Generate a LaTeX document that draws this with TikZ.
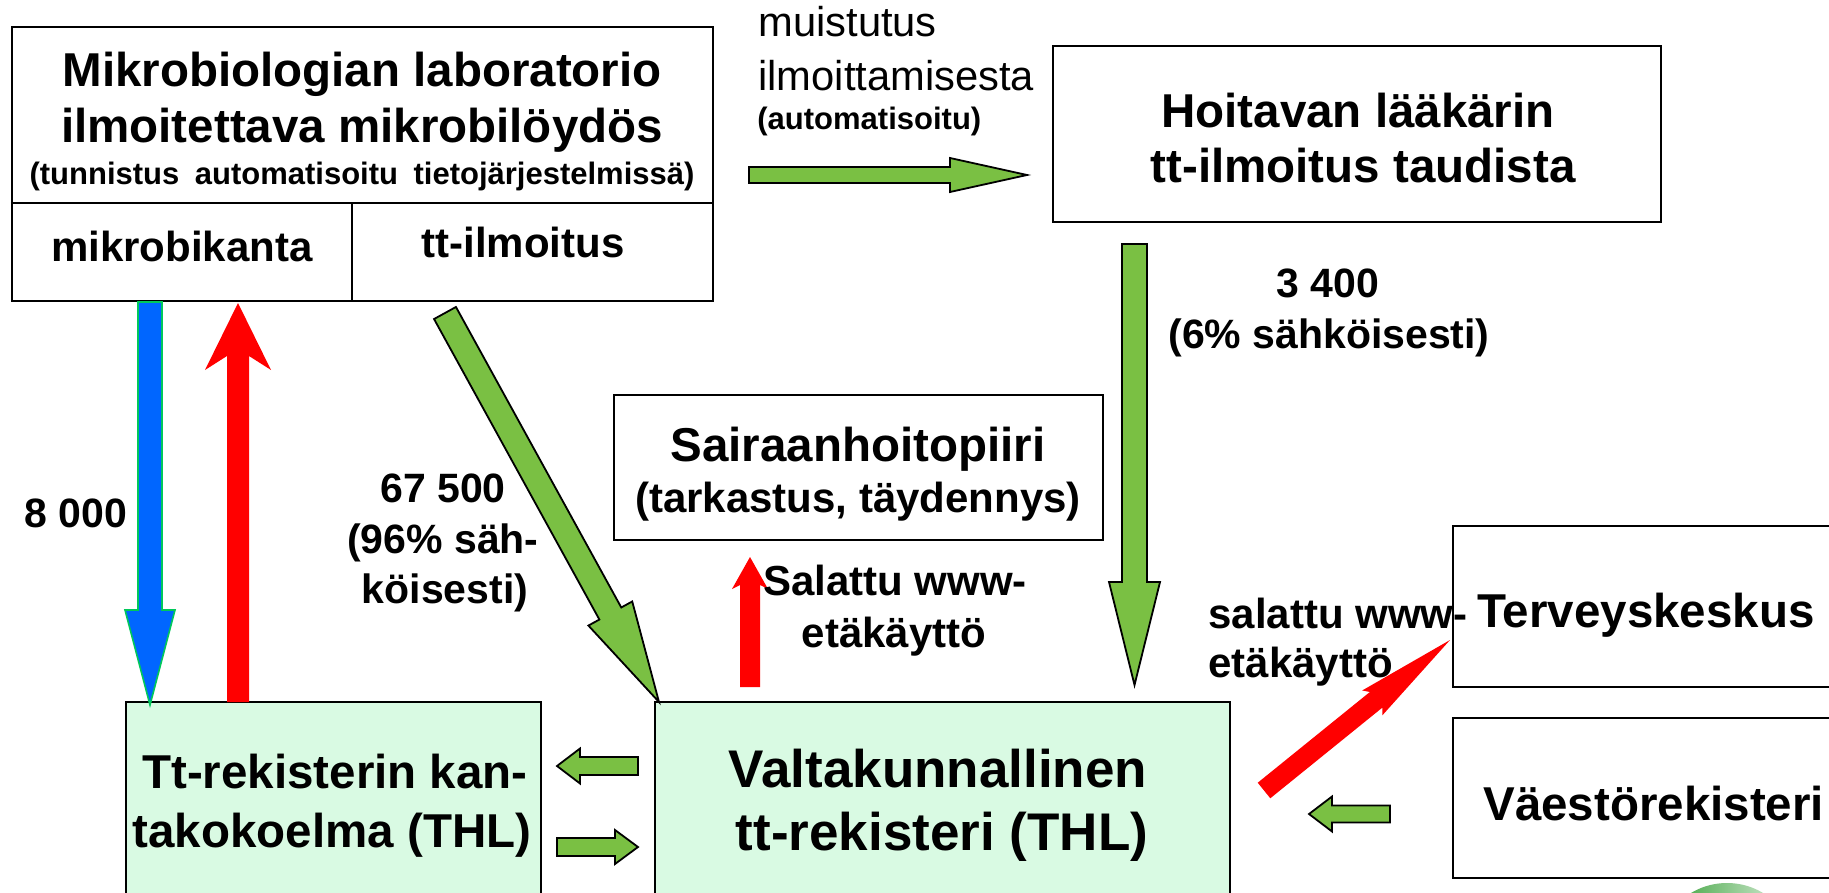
\documentclass[tikz,border=0pt]{standalone}
\usepackage{fontspec}
\setmainfont{Liberation Sans}
\usetikzlibrary{calc}

\definecolor{arrgreen}{RGB}{122,192,67}
\definecolor{arrblue}{RGB}{0,102,255}
\definecolor{blueedge}{RGB}{0,200,90}
\definecolor{regfill}{RGB}{217,250,227}
\definecolor{logogreen}{RGB}{45,155,45}

% block arrow: [style]{tail}{tip}{half shaft}{half head}{head length}{notch}, sizes in px
\newcommand{\blockarrow}[7][]{%
  \coordinate (ba-b) at ($(#3)!#6*0.5pt!(#2)$);
  \coordinate (ba-n) at ($(#3)!#6*0.5pt-#7*0.5pt!(#2)$);
  \path[#1] ($(#2)!#4*0.5pt!90:(#3)$) -- ($(ba-n)!#4*0.5pt!-90:(#2)$)
    -- ($(ba-b)!#5*0.5pt!-90:(#2)$) -- (#3)
    -- ($(ba-b)!#5*0.5pt!90:(#2)$) -- ($(ba-n)!#4*0.5pt!90:(#2)$)
    -- ($(#2)!#4*0.5pt!-90:(#3)$) -- cycle;
}

\begin{document}
\begin{tikzpicture}[x=0.5pt, y=-0.5pt,
  box/.style={draw, line width=1.1pt, inner sep=0pt},
  regbox/.style={box, fill=regfill},
  txt/.style={inner sep=0pt, anchor=base},
  ltxt/.style={inner sep=0pt, anchor=base west},
  ftitle/.style={font=\fontsize{23.75pt}{28pt}\selectfont\bfseries},
  fsub/.style={font=\fontsize{21pt}{25pt}\selectfont\bfseries},
  fnum/.style={font=\fontsize{20.5pt}{25pt}\selectfont\bfseries},
  fsmall/.style={font=\fontsize{15.5pt}{18pt}\selectfont\bfseries},
  fvalta/.style={font=\fontsize{26.5pt}{31pt}\selectfont\bfseries},
  fplain/.style={font=\fontsize{20.85pt}{25pt}\selectfont},
  garrow/.style={fill=arrgreen, draw=black, line width=0.9pt},
  rarrow/.style={fill=red},
  barrow/.style={fill=arrblue, draw=blueedge, line width=0.8pt}]
  \useasboundingbox (0,0) rectangle (1829,893);
  \clip (0,0) rectangle (1829,893);

  % boxes
  \node[box, minimum width=350.5pt, minimum height=137pt] (lab) at (362.5,164) {};
  \coordinate (div) at (352,203);
  \draw[line width=1.1pt] (lab.west |- div) -- (lab.east |- div) (div) -- (div |- lab.south);
  \node[box, minimum width=304pt, minimum height=88pt] (hoit) at (1357,134) {};
  \node[box, minimum width=244.5pt, minimum height=72.5pt] (shp) at (858.5,467.5) {};
  \node[box, minimum width=223.5pt, minimum height=80.5pt] (terv) at (1676.5,606.5) {};
  \node[box, minimum width=223.5pt, minimum height=80pt] (vaes) at (1676.5,798) {};
  \node[regbox, minimum width=207.5pt, minimum height=124pt] (kanta) at (333.5,826) {};
  \node[regbox, minimum width=287.5pt, minimum height=124pt] (valta) at (942.5,826) {};

  % logo corner
  \shade[left color=logogreen, right color=logogreen!12] (1727,953) circle (35pt);

  % arrow ends: name/x/y
  \foreach \n/\x/\y in {
    blueA/150/302, blueB/150/705,
    redA/238/702, redB/238/303,
    diagA/445/313, diagB/659/702,
    hoitA/1134.5/244, hoitB/1134.5/685,
    muA/749/175, muB/1027/175,
    shpA/750/687, shpB/750/557,
    tervA/1264/790.5, tervB/1450/640,
    leftA/638/766, leftB/557/766,
    rightA/557/847, rightB/638/847,
    vaesA/1390/814, vaesB/1309/814}
    \coordinate (\n) at (\x,\y);

  % arrows
  \blockarrow[barrow]{blueA}{blueB}{12}{25}{95}{0}
  \blockarrow[rarrow]{redA}{redB}{11}{33}{67}{14}
  \blockarrow[garrow]{diagA}{diagB}{12.5}{25}{101}{0}
  \blockarrow[garrow]{hoitA}{hoitB}{12.5}{25.5}{103}{0}
  \blockarrow[garrow]{muA}{muB}{8}{17}{77}{0}
  \blockarrow[rarrow]{shpA}{shpB}{10}{18}{32}{4}
  \blockarrow[rarrow]{tervA}{tervB}{10}{16}{100}{5}
  \blockarrow[garrow]{leftA}{leftB}{9}{17.5}{23}{0}
  \blockarrow[garrow]{rightA}{rightB}{9}{17}{23}{0}
  \blockarrow[garrow]{vaesA}{vaesB}{8.5}{17.5}{23}{0}

  % texts
  \node[txt, ftitle] (lab1) at (362,87) {Mikrobiologian laboratorio};
  \node[txt, ftitle] (lab2) at (362,143) {ilmoitettava mikrobilöydös};
  \node[txt, fsmall] (lab3) at (362,185) {(tunnistus\hspace{0.5em}automatisoitu\hspace{0.5em}tietojärjestelmissä)};
  \node[txt, fsub] (mikro) at (182,262) {mikrobikanta};
  \node[txt, fsub] (ttil) at (523,257) {tt-ilmoitus};

  \node[ltxt, fplain] (mu1) at (758,37) {muistutus};
  \node[ltxt, fplain] (mu2) at (758,91) {ilmoittamisesta};
  \node[ltxt, fsmall] (mu3) at (757,130) {(automatisoitu)};

  \node[txt, ftitle] (hoit1) at (1358,128) {Hoitavan lääkärin};
  \node[txt, ftitle] (hoit2) at (1363,183) {tt-ilmoitus taudista};
  \node[txt, fnum] (n3400) at (1328,297) {3 400};
  \node[txt, fnum] (n6) at (1329,348) {(6\% sähköisesti)};

  \node[txt, fnum] (n8000) at (76,527) {8 000};
  \node[txt, fnum] (n675a) at (443,502) {67 500};
  \node[txt, fnum] (n675b) at (443,553) {(96\% säh-};
  \node[txt, fnum] (n675c) at (445,603) {köisesti)};

  \node[txt, ftitle] (shp1) at (858,461) {Sairaanhoitopiiri};
  \node[txt, fsub] (shp2) at (858,512) {(tarkastus, täydennys)};
  \node[txt, fsub] (sal1) at (895,595) {Salattu www-};
  \node[txt, fsub] (sal2) at (894,647) {etäkäyttö};

  \node[ltxt, fsub] (sl1) at (1208,628) {salattu www-};
  \node[ltxt, fsub] (sl2) at (1208,677) {etäkäyttö};
  \node[ltxt, ftitle] (terv1) at (1477,627) {Terveyskeskus};
  \node[ltxt, ftitle] (vaes1) at (1483,820) {Väestörekisteri};

  \node[txt, ftitle] (kan1) at (335,788) {Tt-rekisterin kan-};
  \node[txt, ftitle] (kan2) at (332,847) {takokoelma (THL)};
  \node[txt, fvalta] (val1) at (938,787) {Valtakunnallinen};
  \node[txt, fvalta] (val2) at (942,850) {tt-rekisteri (THL)};
\end{tikzpicture}
\end{document}
